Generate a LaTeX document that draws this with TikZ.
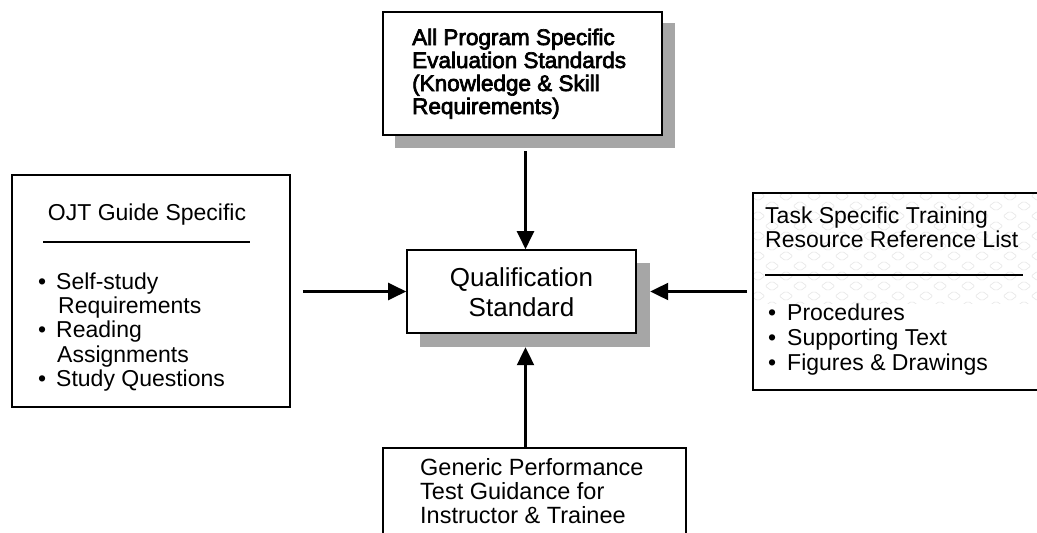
\documentclass[tikz,border=0pt]{standalone}
\usepackage{fontspec}
\setmainfont{Liberation Sans}
\newfontfamily\boldish[FakeBold=3]{Liberation Sans}
\usetikzlibrary{arrows.meta}
\definecolor{shade}{RGB}{166,166,166}
\definecolor{patt}{RGB}{230,230,230}
\begin{document}
\begin{tikzpicture}[x=1pt,y=-1pt,
  box/.style={draw=black, line width=1.6pt, fill=white, rectangle, inner sep=0pt},
  shadowbox/.style={fill=shade, draw=none, rectangle, inner sep=0pt},
  arr/.style={line width=2.2pt, -{Triangle[length=18pt,width=17pt]}},
  txt/.style={anchor=base west, inner sep=0pt, font=\fontsize{23}{25}\selectfont},
  ttxt/.style={anchor=base west, inner sep=0pt, font=\boldish\fontsize{22.5}{23}\selectfont},
  rulel/.style={line width=1.1pt}
]
\useasboundingbox (0,0) rectangle (1037,533);
\fill[white] (0,0) rectangle (1037,533);

% top box
\node[shadowbox, minimum width=280pt, minimum height=125pt] (Ts) at (535,85.5) {};
\node[box, minimum width=279pt, minimum height=123pt] (T) at (522.5,73.5) {};
\node[ttxt] (t1) at (412,45) {All Program Specific};
\node[ttxt] (t2) at (412,68) {Evaluation Standards};
\node[ttxt] (t3) at (412,91) {(Knowledge \& Skill};
\node[ttxt] (t4) at (412,114) {Requirements)};

% center box
\node[shadowbox, minimum width=230pt, minimum height=84pt] (Qs) at (535,305) {};
\node[box, minimum width=229pt, minimum height=83pt] (Q) at (521.5,291.5) {};
\node[anchor=base, inner sep=0pt, font=\fontsize{26}{30}\selectfont] (q1) at (521.5,286) {Qualification};
\node[anchor=base, inner sep=0pt, font=\fontsize{26}{30}\selectfont] (q2) at (521.5,316) {Standard};

% left box
\node[box, minimum width=278pt, minimum height=232pt] (L) at (151,291) {};
\node[anchor=base, inner sep=0pt, font=\fontsize{23}{25}\selectfont] (l0) at (147,220) {OJT Guide Specific};
\draw[rulel] (43,242) -- (250,242);
\node[txt] (lb1) at (38,289) {•};
\node[txt] (l1) at (56,289) {Self-study};
\node[txt] (l2) at (58,313) {Requirements};
\node[txt] (lb3) at (38,337) {•};
\node[txt] (l3) at (56,337) {Reading};
\node[txt] (l4) at (57,362) {Assignments};
\node[txt] (lb5) at (38,386) {•};
\node[txt] (l5) at (56,386) {Study Questions};

% right box
\node[box, minimum width=297pt, minimum height=197pt] (R) at (901.5,291.5) {};
\begin{scope}
  \clip (754,194) rectangle (1037,303);
  \foreach \j in {0,...,11}{
    \pgfmathsetmacro{\yy}{196+10*\j}
    \pgfmathsetmacro{\off}{mod(\j,2)*14}
    \foreach \i in {0,...,10}{
      \pgfmathsetmacro{\xx}{758+28*\i+\off}
      \draw[patt, line width=0.6pt, rounded corners=2pt]
        (\xx-7,\yy) -- (\xx,\yy-5) -- (\xx+7,\yy) -- (\xx,\yy+5) -- cycle;
    }
  }
\end{scope}
\node[txt] (r1) at (765,223) {Task Specific Training};
\node[txt] (r2) at (765,247) {Resource Reference List};
\draw[rulel] (765,275) -- (1023,275);
\node[txt] (rb3) at (768,320) {•};
\node[txt] (r3) at (787,320) {Procedures};
\node[txt] (rb4) at (768,345) {•};
\node[txt] (r4) at (787,345) {Supporting Text};
\node[txt] (rb5) at (768,370) {•};
\node[txt] (r5) at (787,370) {Figures \& Drawings};

% bottom box
\node[box, minimum width=303pt, minimum height=112pt] (B) at (534.5,504) {};
\node[txt, font=\fontsize{23.5}{25}\selectfont] (b1) at (420,475) {Generic Performance};
\node[txt, font=\fontsize{23.5}{25}\selectfont] (b2) at (420,499) {Test Guidance for};
\node[txt, font=\fontsize{23.5}{25}\selectfont] (b3) at (420,523) {Instructor \& Trainee};

% arrows
\coordinate (ax) at (525.5,0);
\draw[arr, shorten <=3pt] (ax |- Ts.south) -- (ax |- Q.north);
\draw[arr, shorten <=12pt] (L.east |- Q.center) -- (Q.west);
\draw[arr, shorten <=5pt] (R.west |- Q.center) -- (Qs.east |- Q.center);
\draw[arr] (ax |- B.north) -- (ax |- Qs.south);
\end{tikzpicture}
\end{document}
